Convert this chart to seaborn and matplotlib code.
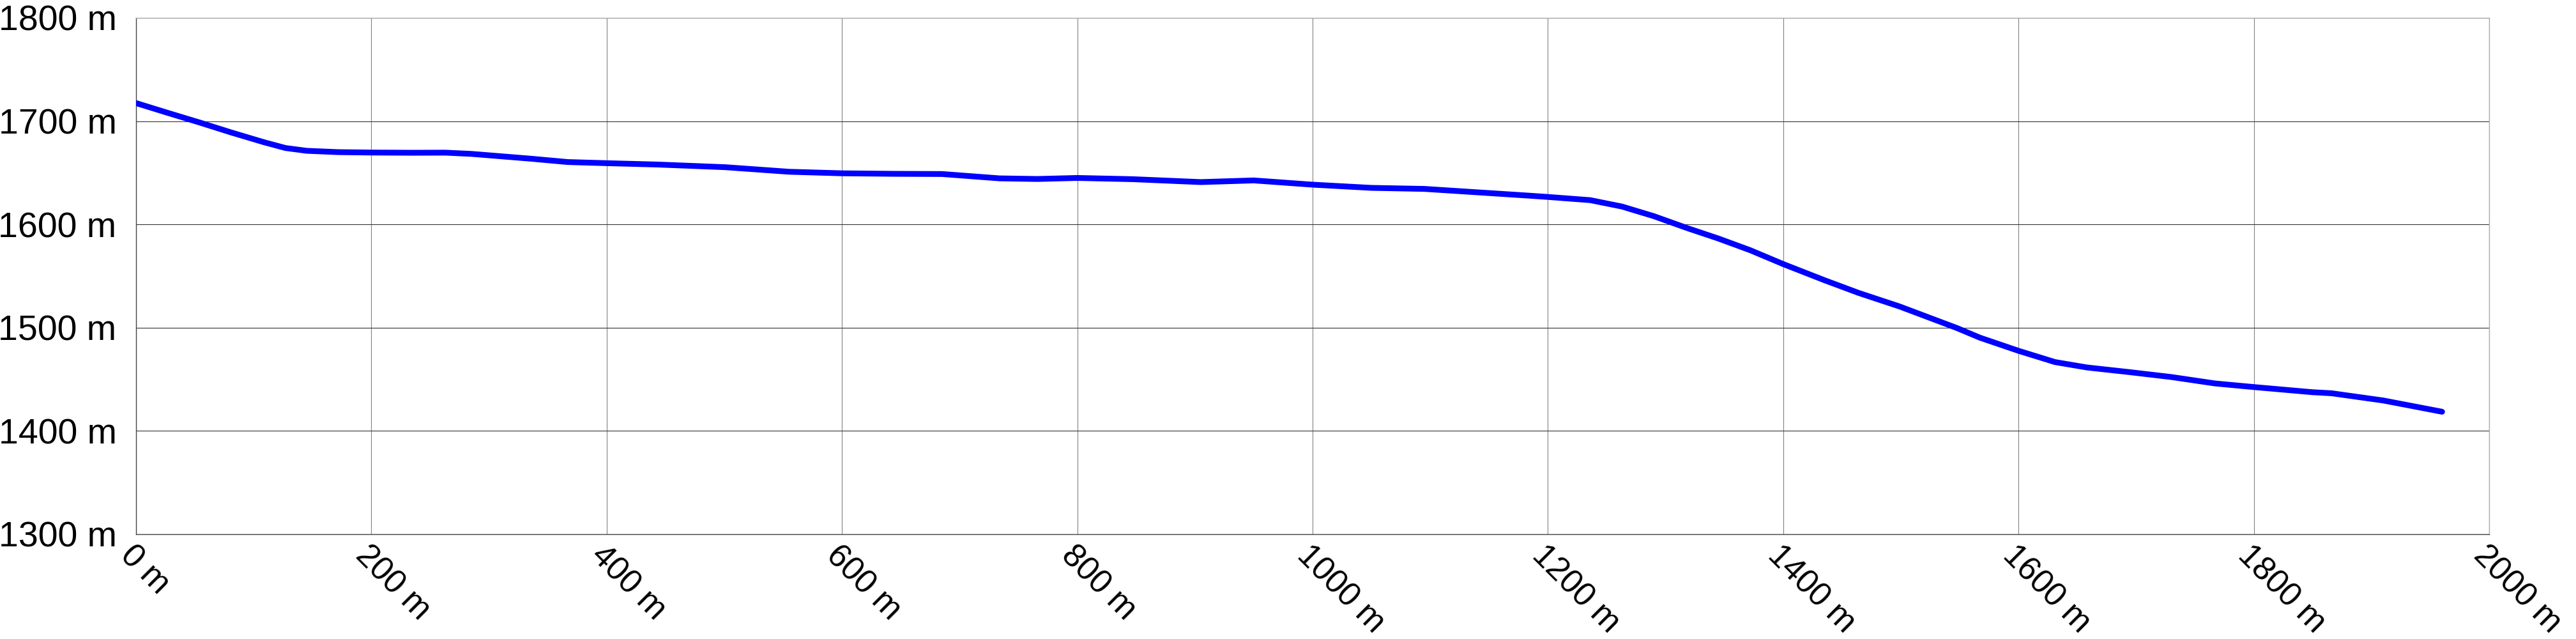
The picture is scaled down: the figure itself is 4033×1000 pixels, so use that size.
import numpy as np
import pandas as pd
import matplotlib
matplotlib.use('Agg')
import matplotlib.pyplot as plt
import seaborn as sns

# elevation profile
distance_m = [0, 27, 54, 81, 109, 127, 145, 172, 200, 235, 263, 285, 335, 367, 400,
              443, 501, 555, 600, 644, 685, 734, 766, 800, 847, 905, 950, 1000, 1050,
              1095, 1182, 1200, 1236, 1263, 1290, 1318, 1345, 1372, 1400, 1435, 1464,
              1499, 1548, 1567, 1600, 1631, 1658, 1694, 1730, 1767, 1800, 1850, 1866,
              1910, 1960]
elevation_m = [1717.5, 1708, 1698.7, 1689, 1679.5, 1674, 1671.3, 1670, 1669.6, 1669.4,
               1669.5, 1668.3, 1663.7, 1660.4, 1659.3, 1658, 1655.4, 1651, 1649.5, 1649,
               1648.8, 1644.6, 1644, 1645, 1643.8, 1641, 1642.6, 1638.5, 1635.4, 1634.4,
               1628, 1626.6, 1623.5, 1617.3, 1608, 1596.6, 1586.3, 1575, 1561.6, 1546,
               1533.7, 1520.5, 1499.5, 1490.4, 1477.6, 1466.7, 1461.5, 1457, 1452.2, 1446,
               1442.5, 1437.5, 1436.5, 1429.5, 1418.6]

x_ticks = [0, 200, 400, 600, 800, 1000, 1200, 1400, 1600, 1800, 2000]
y_ticks = [1300, 1400, 1500, 1600, 1700, 1800]


def main():
    sns.set_style('white')
    plt.rcParams['font.family'] = ['Liberation Sans', 'DejaVu Sans']
    plt.rcParams['text.color'] = 'black'
    plt.rcParams['xtick.color'] = 'black'
    plt.rcParams['ytick.color'] = 'black'

    df = pd.DataFrame({'distance': distance_m, 'elevation': elevation_m})

    fig = plt.figure(figsize=(40.33, 10), dpi=100)
    ax = fig.add_axes([213 / 4033, 1 - 836 / 1000, (3897 - 213) / 4033, (836 - 28) / 1000])

    sns.lineplot(data=df, x='distance', y='elevation', ax=ax, color='#0000ff',
                 linewidth=6.5, solid_capstyle='round', solid_joinstyle='round', zorder=3)

    ax.set_xlim(0, 2000)
    ax.set_ylim(1300, 1800)
    ax.set_xticks(x_ticks)
    ax.set_yticks(y_ticks)
    ax.set_xticklabels([f'{v} m' for v in x_ticks], rotation=-45, ha='left', va='top',
                       rotation_mode='anchor', fontsize=37, color='black')
    ax.set_yticklabels([f'{v} m' for v in y_ticks], fontsize=40, color='black')
    ax.tick_params(axis='y', length=0, pad=22)
    ax.tick_params(axis='x', length=0, pad=6)
    ax.set_xlabel('')
    ax.set_ylabel('')

    ax.grid(True, axis='y', color='#333333', linewidth=0.8)
    ax.grid(True, axis='x', color='#808080', linewidth=0.8)
    for side in ['left', 'bottom']:
        ax.spines[side].set_color('#444444')
        ax.spines[side].set_linewidth(1.0)
    for side in ['top', 'right']:
        ax.spines[side].set_color('#aaaaaa')
        ax.spines[side].set_linewidth(1.0)

    fig.savefig('out.png', dpi=100)
    plt.close(fig)


if __name__ == '__main__':
    main()
